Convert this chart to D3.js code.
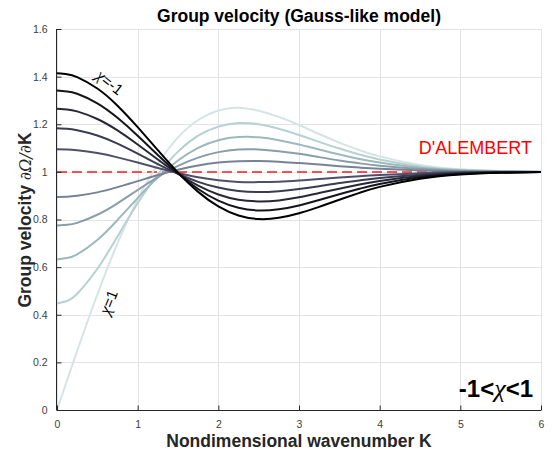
<!DOCTYPE html>
<html><head><meta charset="utf-8">
<script src="https://cdn.jsdelivr.net/npm/d3@7"></script>
<style>
html,body{margin:0;padding:0;background:#fff;}
svg{display:block;}
text{font-family:"Liberation Sans",Arial,Helvetica,sans-serif;}
</style></head>
<body>
<svg id="chart" width="554" height="455"></svg>
<script>
// ---- data ----
const waveK = [0,0.125,0.25,0.5,0.75,1,1.25,1.5,1.75,2,2.25,2.5,2.75,3,3.25,3.5,3.75,4,4.5,5,5.5,6];
const chiValues = [-1,-0.8,-0.6,-0.4,-0.2,0.2,0.4,0.6,0.8,1];
const vgChiM10 = [1.414,1.410,1.398,1.350,1.278,1.188,1.091,0.997,0.916,0.855,0.817,0.802,0.807,0.826,0.853,0.883,0.912,0.937,0.971,0.989,0.996,0.999];
const vgChiM08 = [1.342,1.338,1.328,1.288,1.227,1.152,1.071,0.994,0.928,0.879,0.849,0.838,0.843,0.859,0.882,0.906,0.929,0.949,0.977,0.991,0.997,0.999];
const vgChiM06 = [1.265,1.262,1.254,1.222,1.174,1.115,1.052,0.992,0.942,0.905,0.883,0.876,0.880,0.893,0.911,0.929,0.947,0.962,0.983,0.993,0.998,0.999];
const vgChiM04 = [1.183,1.181,1.175,1.153,1.119,1.077,1.033,0.992,0.958,0.934,0.920,0.915,0.919,0.928,0.940,0.953,0.964,0.974,0.988,0.996,0.999,1.000];
const vgChiM02 = [1.095,1.094,1.091,1.079,1.061,1.039,1.016,0.995,0.977,0.965,0.958,0.957,0.959,0.964,0.970,0.976,0.982,0.987,0.994,0.998,0.999,1.000];
const vgChiP02 = [0.894,0.896,0.900,0.914,0.936,0.961,0.987,1.009,1.027,1.039,1.045,1.046,1.043,1.037,1.031,1.024,1.018,1.013,1.006,1.002,1.001,1.000];
const vgChiP04 = [0.775,0.778,0.786,0.820,0.868,0.924,0.978,1.025,1.060,1.083,1.094,1.094,1.087,1.076,1.062,1.048,1.036,1.026,1.012,1.004,1.001,1.000];
const vgChiP06 = [0.632,0.638,0.654,0.714,0.798,0.890,0.976,1.048,1.101,1.133,1.146,1.145,1.133,1.115,1.094,1.073,1.054,1.039,1.017,1.007,1.002,1.001];
const vgChiP08 = [0.447,0.458,0.488,0.593,0.729,0.868,0.989,1.085,1.152,1.190,1.205,1.200,1.181,1.155,1.126,1.098,1.073,1.052,1.023,1.009,1.003,1.001];
const vgChiP10 = [0.000,0.125,0.248,0.485,0.700,0.884,1.033,1.145,1.218,1.258,1.269,1.257,1.231,1.197,1.159,1.123,1.091,1.065,1.029,1.011,1.004,1.001];
const seriesVg = [vgChiM10,vgChiM08,vgChiM06,vgChiM04,vgChiM02,vgChiP02,vgChiP04,vgChiP06,vgChiP08,vgChiP10];
const xTicks = [0,1,2,3,4,5,6];
const yTicks = [0,0.2,0.4,0.6,0.8,1,1.2,1.4,1.6];
const dalembertLevel = 1;

// ---- drawing ----
const svg = d3.select("#chart");
const x = d3.scaleLinear().domain([0,6]).range([57,541]);
const y = d3.scaleLinear().domain([0,1.6]).range([410,29]);

// bone colormap
function bone(t){
  const hr = Math.min(1, t/0.375);
  const hg = Math.max(0, Math.min(1, (t-0.375)/0.375));
  const hb = Math.max(0, Math.min(1, (t-0.75)/0.25));
  const R = (7*t+hb)/8, G = (7*t+hg)/8, B = (7*t+hr)/8;
  return d3.rgb(R*255,G*255,B*255).toString();
}
const colorIndex = [0,1,2,3,4,6,7,8,9,10];

// grid
const grid = svg.append("g");
grid.selectAll("line.gx").data(xTicks).enter().append("line")
  .attr("x1",d=>Math.round(x(d))+0.5).attr("x2",d=>Math.round(x(d))+0.5)
  .attr("y1",y(1.6)).attr("y2",y(0))
  .attr("stroke","#e3e3e3").attr("stroke-width",1);
grid.selectAll("line.gy").data(yTicks).enter().append("line")
  .attr("y1",d=>Math.round(y(d))+0.5).attr("y2",d=>Math.round(y(d))+0.5)
  .attr("x1",x(0)).attr("x2",x(6))
  .attr("stroke","#e3e3e3").attr("stroke-width",1);

// D'Alembert dashed line
svg.append("line")
  .attr("x1",x(0)).attr("x2",x(6))
  .attr("y1",y(dalembertLevel)).attr("y2",y(dalembertLevel))
  .attr("stroke","#f02020").attr("stroke-width",1.5)
  .attr("stroke-dasharray","10,5");

// curves
const line = d3.line().x((d,i)=>x(waveK[i])).y(d=>y(d)).curve(d3.curveNatural);
const order = d3.range(seriesVg.length).reverse();
svg.append("g").selectAll("path").data(order).enter().append("path")
  .attr("d",i=>line(seriesVg[i]))
  .attr("fill","none")
  .attr("stroke",i=>bone(colorIndex[i]*0.088))
  .attr("stroke-width",2);

// axes
const axCol = "#262626";
const xAxis = d3.axisBottom(x).tickValues(xTicks).tickSize(-5).tickPadding(10).tickFormat(d3.format("d"));
const gx = svg.append("g").attr("transform",`translate(0,${y(0)+0.5})`).call(xAxis);
const yAxis = d3.axisLeft(y).tickValues(yTicks).tickSize(-5).tickPadding(9).tickFormat(d=>d===0?"0":(d===1?"1":d3.format(".1f")(d)));
const gy = svg.append("g").attr("transform",`translate(${x(0)-0.5},0)`).call(yAxis);
[gx,gy].forEach(g=>{
  g.select(".domain").attr("stroke",axCol).attr("stroke-width",1);
  g.selectAll(".tick line").attr("stroke",axCol);
  g.selectAll(".tick text").attr("fill","#404040").attr("font-size","10.5px")
   .attr("font-family","Liberation Sans, Arial, sans-serif");
});
gx.select(".domain").attr("d",`M${x(0)},0H${x(6)}`);
gy.select(".domain").attr("d",`M0,${y(0)}V${y(1.6)}`);

// title and labels
svg.append("text").attr("x",299).attr("y",21.5).attr("text-anchor","middle")
  .attr("font-size","17.5px").attr("font-weight","bold").attr("fill","#000")
  .text("Group velocity (Gauss-like model)");
svg.append("text").attr("x",299).attr("y",446.5).attr("text-anchor","middle")
  .attr("font-size","17.5px").attr("font-weight","bold").attr("fill","#262626")
  .text("Nondimensional wavenumber K");
const yl = svg.append("text").attr("transform","translate(31,220) rotate(-90)")
  .attr("text-anchor","middle").attr("font-size","17.5px").attr("font-weight","bold").attr("fill","#262626");
yl.append("tspan").text("Group velocity ");
yl.append("tspan").attr("font-family","DejaVu Serif, serif").attr("font-style","italic").attr("font-weight","normal").attr("font-size","16px").text("∂Ω/∂");
yl.append("tspan").text("K");

// annotations
svg.append("text").attr("x",532).attr("y",154).attr("text-anchor","end")
  .attr("font-size","18px").attr("fill","#ff0000").text("D'ALEMBERT");

const big = svg.append("text").attr("x",533).attr("y",397).attr("text-anchor","end")
  .attr("font-size","24px").attr("font-weight","bold").attr("fill","#000");
big.append("tspan").text("-1<");
big.append("tspan").attr("font-family","Liberation Serif, serif").attr("font-style","italic").attr("font-weight","normal").attr("font-size","26px").text("χ");
big.append("tspan").text("<1");

const l1 = svg.append("text").attr("transform","translate(110,82) rotate(38)")
  .attr("text-anchor","middle").attr("dominant-baseline","central").attr("font-size","15px").attr("fill","#000");
l1.append("tspan").attr("font-family","Liberation Serif, serif").attr("font-style","italic").attr("font-size","17px").text("χ");
l1.append("tspan").text("=-1");

const l2 = svg.append("text").attr("transform","translate(108,302) rotate(-68)")
  .attr("text-anchor","middle").attr("dominant-baseline","central").attr("font-size","15px").attr("fill","#000");
l2.append("tspan").attr("font-family","Liberation Serif, serif").attr("font-style","italic").attr("font-size","17px").text("χ");
l2.append("tspan").text("=1");
</script>
</body></html>
